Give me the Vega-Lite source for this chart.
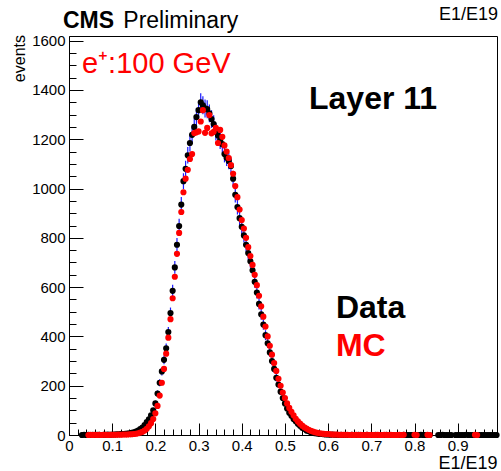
{
"$schema": "https://vega.github.io/schema/vega-lite/v6.json",
"width": 428, "height": 399,
"autosize": {"type": "none"},
"padding": {"left": 69, "top": 36, "right": 4, "bottom": 36},
"background": "white",
"config": {"view": {"stroke": "#000", "strokeWidth": 1}, "axis": {"grid": false, "tickColor": "#000", "domainColor": "#000", "labelColor": "#000", "titleColor": "#000", "labelFont": "Liberation Sans", "titleFont": "Liberation Sans", "labelFlush": false}},
"data": {"values": [
{"x":0.030,"d":0},{"x":0.035,"d":1},{"x":0.040,"d":0},{"x":0.045,"d":1,"m":0},{"x":0.050,"d":0,"m":1},
{"x":0.055,"d":1,"m":0},{"x":0.060,"d":0,"m":1},{"x":0.065,"d":1,"m":0},{"x":0.070,"d":1,"m":1},{"x":0.075,"d":0,"m":0},
{"x":0.080,"d":1,"m":1},{"x":0.085,"d":1,"m":1},{"x":0.090,"d":2,"m":0},{"x":0.095,"d":1,"m":1},{"x":0.100,"d":2,"m":1},
{"x":0.105,"d":2,"m":1},{"x":0.110,"d":3,"m":1},{"x":0.115,"d":3,"m":2},{"x":0.120,"d":4,"m":1},{"x":0.125,"d":4,"m":2},
{"x":0.130,"d":5,"m":2},{"x":0.135,"d":6,"m":2},{"x":0.140,"d":7,"m":3},{"x":0.145,"d":9,"m":3},{"x":0.150,"d":11,"m":4},
{"x":0.155,"d":14,"m":5},{"x":0.160,"d":18,"m":7},{"x":0.165,"d":24,"m":10,"e":4.9},{"x":0.170,"d":30,"m":13,"e":5.5},{"x":0.175,"d":40,"m":18,"e":6.3},
{"x":0.180,"d":52,"m":25,"e":7.2},{"x":0.185,"d":64,"m":35,"e":8},{"x":0.190,"d":80,"m":48,"e":8.9},{"x":0.195,"d":100,"m":65,"e":10},{"x":0.200,"d":128,"m":88,"e":11.3},
{"x":0.205,"d":168,"m":118,"e":13},{"x":0.210,"d":212,"m":160,"e":14.6},{"x":0.215,"d":258,"m":212,"e":16.1},{"x":0.220,"d":305,"m":268,"e":17.5},{"x":0.225,"d":352,"m":330,"e":18.8},
{"x":0.230,"d":418,"m":395,"e":20.4},{"x":0.235,"d":495,"m":470,"e":22.2},{"x":0.240,"d":585,"m":555,"e":24.2},{"x":0.245,"d":680,"m":642,"e":26.1},{"x":0.250,"d":772,"m":735,"e":27.8},
{"x":0.255,"d":848,"m":820,"e":29.1},{"x":0.260,"d":935,"m":905,"e":30.6},{"x":0.265,"d":1030,"m":985,"e":32.1},{"x":0.270,"d":1080,"m":1040,"e":32.9},{"x":0.275,"d":1135,"m":1076,"e":33.7},
{"x":0.280,"d":1185,"m":1120,"e":34.4},{"x":0.285,"d":1218,"m":1140,"e":34.9},{"x":0.290,"d":1250,"m":1225,"e":35.4},{"x":0.295,"d":1290,"m":1228,"e":35.9},{"x":0.300,"d":1318,"m":1232,"e":36.3},
{"x":0.305,"d":1350,"m":1272,"e":36.7},{"x":0.310,"d":1338,"m":1318,"e":36.6},{"x":0.315,"d":1325,"m":1226,"e":36.4},{"x":0.320,"d":1322,"m":1246,"e":36.4},{"x":0.325,"d":1305,"m":1298,"e":36.1},
{"x":0.330,"d":1282,"m":1224,"e":35.8},{"x":0.335,"d":1262,"m":1230,"e":35.5},{"x":0.340,"d":1230,"m":1246,"e":35.1},{"x":0.345,"d":1215,"m":1185,"e":34.9},{"x":0.350,"d":1195,"m":1238,"e":34.6},
{"x":0.355,"d":1180,"m":1210,"e":34.4},{"x":0.360,"d":1140,"m":1175,"e":33.8},{"x":0.365,"d":1125,"m":1150,"e":33.5},{"x":0.370,"d":1112,"m":1124,"e":33.3},{"x":0.375,"d":1092,"m":1095,"e":33},
{"x":0.380,"d":1040,"m":1060,"e":32.2},{"x":0.385,"d":975,"m":1010,"e":31.2},{"x":0.390,"d":925,"m":965,"e":30.4},{"x":0.395,"d":880,"m":915,"e":29.7},{"x":0.400,"d":845,"m":872,"e":29.1},
{"x":0.405,"d":810,"m":838,"e":28.5},{"x":0.410,"d":772,"m":800,"e":27.8},{"x":0.415,"d":738,"m":762,"e":27.2},{"x":0.420,"d":705,"m":726,"e":26.6},{"x":0.425,"d":668,"m":690,"e":25.8},
{"x":0.430,"d":622,"m":650,"e":24.9},{"x":0.435,"d":578,"m":608,"e":24},{"x":0.440,"d":532,"m":565,"e":23.1},{"x":0.445,"d":490,"m":522,"e":22.1},{"x":0.450,"d":448,"m":480,"e":21.2},
{"x":0.455,"d":405,"m":440,"e":20.1},{"x":0.460,"d":372,"m":400,"e":19.3},{"x":0.465,"d":335,"m":362,"e":18.3},{"x":0.470,"d":300,"m":326,"e":17.3},{"x":0.475,"d":268,"m":292,"e":16.4},
{"x":0.480,"d":232,"m":260,"e":15.2},{"x":0.485,"d":205,"m":228,"e":14.3},{"x":0.490,"d":176,"m":200,"e":13.3},{"x":0.495,"d":150,"m":172,"e":12.2},{"x":0.500,"d":128,"m":150,"e":11.3},
{"x":0.505,"d":108,"m":128,"e":10.4},{"x":0.510,"d":90,"m":110,"e":9.5},{"x":0.515,"d":78,"m":94,"e":8.8},{"x":0.520,"d":65,"m":80,"e":8.1},{"x":0.525,"d":56,"m":66,"e":7.5},
{"x":0.530,"d":46,"m":55,"e":6.8},{"x":0.535,"d":38,"m":46,"e":6.2},{"x":0.540,"d":29,"m":38,"e":5.4},{"x":0.545,"d":25,"m":31,"e":5},{"x":0.550,"d":18,"m":26,"e":4.2},
{"x":0.555,"d":16,"m":21},{"x":0.560,"d":11,"m":17},{"x":0.565,"d":10,"m":14},{"x":0.570,"d":7,"m":11},{"x":0.575,"d":6,"m":9},
{"x":0.580,"d":4,"m":7},{"x":0.585,"d":4,"m":6},{"x":0.590,"d":3,"m":5},{"x":0.595,"d":2,"m":4},{"x":0.600,"d":2,"m":4},
{"x":0.605,"d":1,"m":3},{"x":0.610,"d":2,"m":2},{"x":0.615,"d":1,"m":2},{"x":0.620,"d":1,"m":2},{"x":0.625,"d":0,"m":1},
{"x":0.630,"d":1,"m":1},{"x":0.635,"d":0,"m":1},{"x":0.640,"d":1,"m":1},{"x":0.645,"d":0,"m":1},{"x":0.650,"d":0,"m":0},
{"x":0.655,"d":1,"m":1},{"x":0.660,"d":0,"m":0},{"x":0.665,"d":0,"m":1},{"x":0.670,"d":1,"m":0},{"x":0.675,"d":0,"m":1},
{"x":0.680,"d":0,"m":0},{"x":0.685,"d":0,"m":0},{"x":0.690,"d":1,"m":1},{"x":0.695,"d":0,"m":0},{"x":0.700,"d":0,"m":1},
{"x":0.705,"d":0,"m":0},{"x":0.710,"d":1,"m":0},{"x":0.715,"d":0,"m":1},{"x":0.720,"d":0,"m":0},{"x":0.725,"d":0,"m":0},
{"x":0.730,"d":0,"m":1},{"x":0.735,"d":1,"m":0},{"x":0.740,"d":0,"m":0},{"x":0.745,"d":0,"m":1},{"x":0.750,"d":0,"m":0},
{"x":0.755,"m":0},{"x":0.760,"m":0},{"x":0.765,"d":0,"m":1},{"x":0.770,"d":0,"m":0},{"x":0.775,"d":1,"m":1},
{"x":0.780,"d":0},{"x":0.785,"d":0},{"x":0.790,"d":0},{"x":0.795,"d":0},{"x":0.800,"d":0,"m":1},
{"x":0.805,"d":0,"m":0},{"x":0.810,"d":0},{"x":0.815,"d":1},{"x":0.820,"d":0},{"x":0.825,"d":0},
{"x":0.830,"d":0,"m":1},{"x":0.835,"d":0,"m":0},{"x":0.855,"d":0},{"x":0.860,"d":0},{"x":0.865,"d":1},
{"x":0.870,"d":0},{"x":0.875,"d":0},{"x":0.880,"d":0},{"x":0.885,"d":0},{"x":0.895,"d":0},
{"x":0.900,"d":0},{"x":0.905,"d":0},{"x":0.910,"d":0},{"x":0.915,"d":0},{"x":0.920,"d":1},
{"x":0.925,"d":0},{"x":0.930,"d":0},{"x":0.935,"d":0},{"x":0.940,"d":0,"m":1},{"x":0.945,"d":0,"m":0},
{"x":0.950,"d":0},{"x":0.955,"d":0},{"x":0.960,"d":0},{"x":0.965,"d":0},{"x":0.970,"d":0},
{"x":0.975,"d":0},{"x":0.980,"d":0},{"x":0.985,"d":0},{"x":0.990,"d":0}
]},
"layer": [
{"transform": [{"filter": "isValid(datum.e)"}],
 "mark": {"type": "errorbar", "ticks": false, "color": "#1a1aff", "thickness": 1.2, "opacity": 1},
 "encoding": {
  "x": {"field": "x", "type": "quantitative", "scale": {"domain": [0, 0.991], "nice": false, "zero": false},
        "axis": {"title": null, "orient": "bottom", "values": [0.02,0.04,0.06,0.08,0.12,0.14,0.16,0.18,0.22,0.24,0.26,0.28,0.32,0.34,0.36,0.38,0.42,0.44,0.46,0.48,0.52,0.54,0.56,0.58,0.62,0.64,0.66,0.68,0.72,0.74,0.76,0.78,0.82,0.84,0.86,0.88,0.92,0.94,0.96,0.98], "tickSize": -6, "labels": false, "domain": false}},
  "y": {"field": "d", "type": "quantitative", "scale": {"domain": [0, 1619], "nice": false},
        "axis": {"title": null, "orient": "left", "values": [50,100,150,250,300,350,450,500,550,650,700,750,850,900,950,1050,1100,1150,1250,1300,1350,1450,1500,1550], "tickSize": -7, "labels": false, "domain": false}},
  "yError": {"field": "e"}
 }},
{"transform": [{"filter": "isValid(datum.d)"}],
 "mark": {"type": "circle", "size": 38, "color": "#000", "opacity": 1},
 "encoding": {
  "x": {"field": "x", "type": "quantitative", "scale": {"domain": [0, 0.991], "nice": false, "zero": false},
        "axis": {"title": "E1/E19", "orient": "bottom", "values": [0,0.1,0.2,0.3,0.4,0.5,0.6,0.7,0.8,0.9], "format": "~g", "tickSize": -12, "labelPadding": 15, "labelFontSize": 15, "titleFontSize": 18, "titleFontWeight": "normal", "titleAlign": "right", "titleBaseline": "alphabetic", "titleX": 428, "titleY": 33, "labelOverlap": false}},
  "y": {"field": "d", "type": "quantitative", "scale": {"domain": [0, 1619], "nice": false},
        "axis": {"title": null, "orient": "left", "values": [0,200,400,600,800,1000,1200,1400,1600], "format": "d", "tickSize": -14, "labelPadding": 18, "labelFontSize": 15, "labelOverlap": false}}
 }},
{"transform": [{"filter": "isValid(datum.m)"}],
 "mark": {"type": "circle", "size": 38, "color": "#ff0000", "opacity": 1},
 "encoding": {
  "x": {"field": "x", "type": "quantitative", "axis": null},
  "y": {"field": "m", "type": "quantitative", "axis": null}
 }},
{"data": {"values": [{"t": "events"}]},
 "mark": {"type": "text", "angle": 270, "align": "right", "baseline": "middle", "font": "Liberation Sans", "fontSize": 16, "fontWeight": "normal", "color": "#000"},
 "encoding": {"x": {"datum": -0.1135, "type": "quantitative", "axis": null}, "y": {"datum": 1623, "type": "quantitative", "axis": null}, "text": {"field": "t"}}},
{"data": {"values": [{"t": "E1/E19"}]},
 "mark": {"type": "text", "align": "right", "baseline": "alphabetic", "font": "Liberation Sans", "fontSize": 18, "fontWeight": "normal", "color": "#000"},
 "encoding": {"x": {"datum": 0.9933, "type": "quantitative", "axis": null}, "y": {"datum": 1684, "type": "quantitative", "axis": null}, "text": {"field": "t"}}},
{"data": {"values": [{"t": "CMS"}]},
 "mark": {"type": "text", "align": "left", "baseline": "alphabetic", "font": "Liberation Sans", "fontSize": 23, "fontWeight": "bold", "color": "#000"},
 "encoding": {"x": {"datum": -0.0139, "type": "quantitative", "axis": null}, "y": {"datum": 1651, "type": "quantitative", "axis": null}, "text": {"field": "t"}}},
{"data": {"values": [{"t": "Preliminary"}]},
 "mark": {"type": "text", "align": "left", "baseline": "alphabetic", "font": "Liberation Sans", "fontSize": 23, "fontWeight": "normal", "color": "#000"},
 "encoding": {"x": {"datum": 0.1257, "type": "quantitative", "axis": null}, "y": {"datum": 1651, "type": "quantitative", "axis": null}, "text": {"field": "t"}}},
{"data": {"values": [{"t": "e⁺:100 GeV"}]},
 "mark": {"type": "text", "align": "left", "baseline": "alphabetic", "font": "Liberation Sans", "fontSize": 29, "fontWeight": "normal", "color": "#ff0000"},
 "encoding": {"x": {"datum": 0.030, "type": "quantitative", "axis": null}, "y": {"datum": 1469, "type": "quantitative", "axis": null}, "text": {"field": "t"}}},
{"data": {"values": [{"t": "Layer 11"}]},
 "mark": {"type": "text", "align": "left", "baseline": "alphabetic", "font": "Liberation Sans", "fontSize": 32, "fontWeight": "bold", "color": "#000"},
 "encoding": {"x": {"datum": 0.5557, "type": "quantitative", "axis": null}, "y": {"datum": 1323, "type": "quantitative", "axis": null}, "text": {"field": "t"}}},
{"data": {"values": [{"t": "Data"}]},
 "mark": {"type": "text", "align": "left", "baseline": "alphabetic", "font": "Liberation Sans", "fontSize": 32, "fontWeight": "bold", "color": "#000"},
 "encoding": {"x": {"datum": 0.618, "type": "quantitative", "axis": null}, "y": {"datum": 475, "type": "quantitative", "axis": null}, "text": {"field": "t"}}},
{"data": {"values": [{"t": "MC"}]},
 "mark": {"type": "text", "align": "left", "baseline": "alphabetic", "font": "Liberation Sans", "fontSize": 32, "fontWeight": "bold", "color": "#ff0000"},
 "encoding": {"x": {"datum": 0.618, "type": "quantitative", "axis": null}, "y": {"datum": 321, "type": "quantitative", "axis": null}, "text": {"field": "t"}}}
],
"resolve": {"axis": {"x": "independent", "y": "independent"}}
}
